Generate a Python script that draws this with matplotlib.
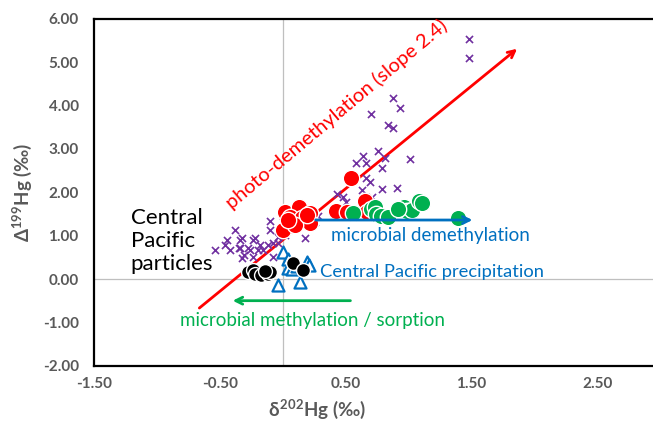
#! /usr/bin/env python3

import matplotlib
matplotlib.use( 'Agg' )
import matplotlib.pyplot as plt

#----------------------------------------------------------------------------
# Data (d202Hg, D199Hg)
#----------------------------------------------------------------------------
purple_x = [ 1.48, 1.48, 0.88, 0.93, 0.70, 0.84, 0.88, 0.58, 0.64, 0.66,
             0.76, 0.81, 0.79, 1.01, 0.66, 0.69, 0.63, 0.79, 0.91, 0.43,
             0.48, 0.50, 0.71, 0.11, 0.20, 0.28, 0.26, 0.18, 0.08, -0.10,
             -0.10, 0.00, -0.02, 0.02, 0.00, 0.00, -0.38, -0.44, -0.46, -0.54,
             -0.42, -0.34, -0.34, -0.31, -0.24, -0.22, -0.26, -0.18, -0.16, -0.12,
             -0.08, -0.32, -0.24, -0.08, -0.20, -0.04, -0.04, -0.32, -0.35, -0.28 ]
purple_y = [ 5.53, 5.10, 4.17, 3.94, 3.81, 3.55, 3.48, 2.67, 2.84, 2.68,
             2.95, 2.79, 2.56, 2.77, 2.33, 2.24, 2.05, 2.08, 2.10, 1.96,
             1.89, 1.78, 1.89, 1.57, 1.57, 1.45, 1.31, 0.95, 1.43, 1.34,
             1.13, 1.13, 1.01, 1.01, 1.31, 1.52, 1.13, 0.90, 0.78, 0.67,
             0.67, 0.90, 0.71, 0.55, 0.90, 0.95, 0.67, 0.78, 0.67, 0.78,
             0.83, 0.48, 0.51, 0.51, 0.67, 0.97, 0.83, 0.95, 0.71, 0.71 ]

red_x = [ 0.54, 0.65, 0.42, 0.51, 0.67, 0.02, 0.13, 0.22, 0.06, 0.15,
          0.22, 0.03, 0.00, 0.10, 0.19, 0.04 ]
red_y = [ 2.33, 1.80, 1.57, 1.55, 1.55, 1.55, 1.66, 1.52, 1.43, 1.41,
          1.29, 1.20, 1.13, 1.25, 1.48, 1.36 ]

green_x = [ 0.56, 0.70, 0.73, 0.74, 0.78, 0.84, 0.96, 0.99, 1.03, 1.08,
            1.11, 1.39, 0.92 ]
green_y = [ 1.52, 1.62, 1.66, 1.50, 1.45, 1.43, 1.67, 1.56, 1.58, 1.79,
            1.76, 1.41, 1.62 ]

black_x = [ -0.28, -0.24, -0.22, -0.17, -0.12, -0.10, -0.14, 0.08, 0.16 ]
black_y = [ 0.16, 0.21, 0.12, 0.09, 0.12, 0.16, 0.19, 0.37, 0.20 ]

tri_x = [ 0.00, 0.04, 0.04, 0.07, 0.19, 0.21, 0.14, -0.04, 0.11 ]
tri_y = [ 0.62, 0.45, 0.26, 0.22, 0.40, 0.32, -0.07, -0.14, 0.30 ]

# trend arrows: (start, end)
photo_arrow = [ (-0.68, -0.71), (1.88, 5.35) ]
demeth_arrow = [ (0.24, 1.36), (1.53, 1.36) ]
meth_arrow = [ (0.56, -0.50), (-0.42, -0.50) ]

x_ticks = [ -1.5, -0.5, 0.5, 1.5, 2.5 ]
y_ticks = [ -2, -1, 0, 1, 2, 3, 4, 5, 6 ]

#----------------------------------------------------------------------------
def main():
    plt.rcParams['font.family'] = [ 'Lato', 'DejaVu Sans' ]
    plt.rcParams['mathtext.fontset'] = 'custom'
    plt.rcParams['mathtext.rm'] = 'Lato:bold'
    plt.rcParams['mathtext.it'] = 'Lato:bold'
    plt.rcParams['mathtext.bf'] = 'Lato:bold'

    RED, GREEN, BLUE = '#FF0000', '#00B050', '#0070C0'
    PURPLE, GREY = '#7030A0', '#595959'

    fig = plt.figure( figsize = (6.53, 4.29), dpi = 100 )
    ax = fig.add_axes( [ 0.144, 0.1475, 0.867, 0.8086 ] )

    ax.set_xlim( -1.5, 3.0 )
    ax.set_ylim( -2, 6 )

    ax.axhline( 0, color = '#BFBFBF', lw = 0.9, zorder = 0 )
    ax.axvline( 0, color = '#BFBFBF', lw = 0.9, zorder = 0 )

    for s in ax.spines.values():
        s.set_linewidth( 1.6 )
        s.set_color( 'black' )

    # photo-demethylation arrow (drawn under the points)
    ax.annotate( '', xy = photo_arrow[1], xytext = photo_arrow[0],
                 arrowprops = dict( arrowstyle = '->,head_length=0.5,head_width=0.25',
                                    color = RED, lw = 2 ), zorder = 1 )

    ax.scatter( purple_x, purple_y, marker = 'x', s = 26, color = PURPLE,
                linewidths = 1.2, zorder = 3 )
    ax.scatter( red_x, red_y, s = 140, color = RED, edgecolors = 'white',
                linewidths = 1.0, zorder = 4 )
    ax.scatter( green_x, green_y, s = 140, color = GREEN, edgecolors = 'white',
                linewidths = 1.0, zorder = 4 )
    ax.scatter( tri_x, tri_y, marker = '^', s = 75, facecolors = 'white',
                edgecolors = BLUE, linewidths = 1.6, zorder = 5 )
    ax.scatter( black_x, black_y, s = 100, color = 'black', edgecolors = 'white',
                linewidths = 1.0, zorder = 6 )

    ax.annotate( '', xy = demeth_arrow[1], xytext = demeth_arrow[0],
                 arrowprops = dict( arrowstyle = '->,head_length=0.5,head_width=0.25',
                                    color = BLUE, lw = 2 ), zorder = 6 )
    ax.annotate( '', xy = meth_arrow[1], xytext = meth_arrow[0],
                 arrowprops = dict( arrowstyle = '->,head_length=0.5,head_width=0.25',
                                    color = GREEN, lw = 2 ), zorder = 6 )

    ax.text( 0.43, 3.79, 'photo-demethylation (slope 2.4)', color = RED,
             fontsize = 14.5, rotation = 40, rotation_mode = 'anchor',
             ha = 'center', va = 'center' )
    ax.text( -1.21, 0.87, 'Central\nPacific\nparticles', color = 'black',
             fontsize = 16, ha = 'left', va = 'center', linespacing = 1.2 )
    ax.text( 0.38, 1.01, 'microbial demethylation', color = BLUE,
             fontsize = 13.5, ha = 'left', va = 'center' )
    ax.text( 0.30, 0.16, 'Central Pacific precipitation', color = BLUE,
             fontsize = 13.2, ha = 'left', va = 'center' )
    ax.text( -0.82, -0.95, 'microbial methylation / sorption', color = GREEN,
             fontsize = 13.5, ha = 'left', va = 'center' )

    ax.set_xticks( x_ticks )
    ax.set_yticks( y_ticks )
    ax.set_xticklabels( [ '%.2f' % v for v in x_ticks ] )
    ax.set_yticklabels( [ '%.2f' % v for v in y_ticks ] )
    ax.tick_params( length = 0, labelsize = 11, labelcolor = GREY )
    ax.tick_params( axis = 'y', pad = 11 )
    ax.tick_params( axis = 'x', pad = 8 )
    for lab in ax.get_xticklabels() + ax.get_yticklabels():
        lab.set_fontweight( 'bold' )

    ax.set_xlabel( r'$\delta^{202}$Hg (‰)', fontsize = 13.5, fontweight = 'bold',
                   color = GREY, va = 'center' )
    ax.set_ylabel( r'$\Delta^{199}$Hg (‰)', fontsize = 13.5, fontweight = 'bold',
                   color = GREY )
    ax.xaxis.set_label_coords( 0.394, -0.127 )
    ax.yaxis.set_label_coords( -0.106, 0.5 )

    fig.savefig( 'out.png', dpi = 100 )

#----------------------------------------------------------------------------
if __name__ == "__main__":
    main()
